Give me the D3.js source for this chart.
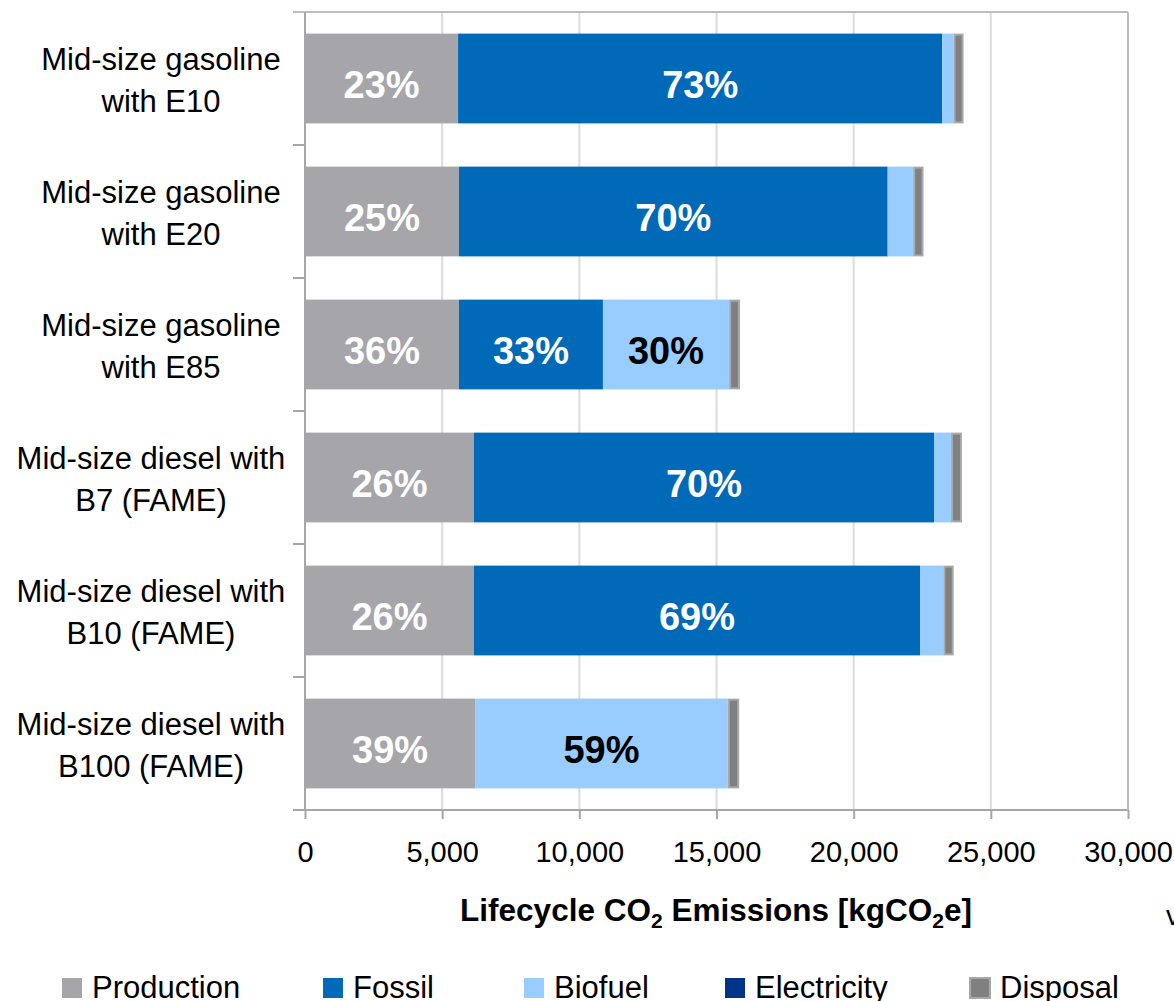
<!DOCTYPE html>
<html>
<head>
<meta charset="utf-8">
<script src="https://cdn.jsdelivr.net/npm/d3@7"></script>
<style>
  body { margin: 0; background: #fff; }
  svg { font-family: "Liberation Sans", Arial, sans-serif; }
</style>
</head>
<body>
<div id="chart"></div>
<script>
// categories (two label lines each)
const categories = [
  ['Mid-size gasoline', 'with E10'],
  ['Mid-size gasoline', 'with E20'],
  ['Mid-size gasoline', 'with E85'],
  ['Mid-size diesel with', 'B7 (FAME)'],
  ['Mid-size diesel with', 'B10 (FAME)'],
  ['Mid-size diesel with', 'B100 (FAME)']
];
const seriesNames = ['Production', 'Fossil', 'Biofuel', 'Electricity', 'Disposal'];
const production = [5580, 5610, 5610, 6160, 6160, 6200];
const fossil = [17650, 15630, 5250, 16770, 16260, 0];
const biofuel = [410, 930, 4600, 620, 850, 9210];
const electricity = [0, 0, 0, 0, 0, 0];
const disposal = [330, 340, 360, 360, 340, 380];
// percentage labels shown on segments
const prodPct = ['23%', '25%', '36%', '26%', '26%', '39%'];
const fossilPct = ['73%', '70%', '33%', '70%', '69%', ''];
const biofuelPct = ['', '', '30%', '', '', '59%'];
const xTicks = [0, 5000, 10000, 15000, 20000, 25000, 30000];

const colors = ['#a6a6aa', '#0069b8', '#99ccff', '#00338a', '#808080'];

const width = 1174, height = 1001;
const plotLeft = 305, plotRight = 1128, plotTop = 12, plotBottom = 810;

const svg = d3.select('#chart').append('svg')
  .attr('width', width).attr('height', height);

const x = d3.scaleLinear().domain([0, 30000]).range([plotLeft, plotRight]);
const y = d3.scaleBand().domain(d3.range(categories.length))
  .range([plotTop, plotBottom]).paddingInner(0.325).paddingOuter(0.1625);

// gridlines
svg.append('g').selectAll('line').data(xTicks.slice(1)).join('line')
  .attr('x1', d => x(d)).attr('x2', d => x(d))
  .attr('y1', plotTop).attr('y2', plotBottom)
  .attr('stroke', '#dcdcdc').attr('stroke-width', 2);

// top border
svg.append('line').attr('x1', plotLeft - 12).attr('x2', plotRight)
  .attr('y1', plotTop).attr('y2', plotTop)
  .attr('stroke', '#bdbdbd').attr('stroke-width', 2);

// stacked data
const table = categories.map((c, i) => ({
  Production: production[i], Fossil: fossil[i], Biofuel: biofuel[i],
  Electricity: electricity[i], Disposal: disposal[i]
}));
const stacked = d3.stack().keys(seriesNames)(table);

const groups = svg.append('g').selectAll('g').data(stacked).join('g')
  .attr('fill', (d, i) => colors[i]);

groups.selectAll('rect').data(d => d).join('rect')
  .attr('x', d => x(d[0]))
  .attr('y', (d, i) => y(i))
  .attr('width', d => x(d[1]) - x(d[0]))
  .attr('height', y.bandwidth());

// disposal border
groups.filter(d => d.key === 'Disposal').selectAll('rect')
  .attr('stroke', '#a8a8a8').attr('stroke-width', 2)
  .attr('x', d => x(d[0]) + 1)
  .attr('width', d => Math.max(0, x(d[1]) - x(d[0]) - 1))
  .attr('y', (d, i) => y(i) + 1)
  .attr('height', y.bandwidth() - 2);

// segment labels
function addLabels(series, labels, color) {
  svg.append('g').selectAll('text').data(series).join('text')
    .attr('x', d => (x(d[0]) + x(d[1])) / 2)
    .attr('y', (d, i) => y(i) + y.bandwidth() / 2 + 6)
    .attr('dy', '0.36em')
    .attr('text-anchor', 'middle')
    .attr('font-size', 38).attr('font-weight', 'bold')
    .attr('fill', color)
    .text((d, i) => labels[i]);
}
addLabels(stacked[0], prodPct, '#fff');
addLabels(stacked[1], fossilPct, '#fff');
addLabels(stacked[2], biofuelPct, '#000');

// y axis line + category ticks
svg.append('line').attr('x1', plotLeft).attr('x2', plotLeft)
  .attr('y1', plotTop).attr('y2', plotBottom)
  .attr('stroke', '#a6a6a6').attr('stroke-width', 2);
const step = y.step();
svg.append('g').selectAll('line').data(d3.range(1, categories.length)).join('line')
  .attr('x1', plotLeft - 12).attr('x2', plotLeft)
  .attr('y1', i => plotTop + i * step).attr('y2', i => plotTop + i * step)
  .attr('stroke', '#a6a6a6').attr('stroke-width', 2);

// category labels
const catLabels = svg.append('g').selectAll('text').data(categories).join('text')
  .attr('text-anchor', 'middle')
  .attr('font-size', 31).attr('fill', '#000');
catLabels.each(function (d, i) {
  const t = d3.select(this);
  const cy = y(i) + y.bandwidth() / 2;
  const cx = i < 3 ? 161 : 151;
  t.append('tspan').attr('x', cx).attr('y', cy - 20).attr('dy', '0.36em').text(d[0]);
  t.append('tspan').attr('x', cx).attr('y', cy + 22).attr('dy', '0.36em').text(d[1]);
});

// x axis
const xAxis = svg.append('g').attr('transform', `translate(0,${plotBottom})`)
  .call(d3.axisBottom(x).tickValues(xTicks).tickSize(9).tickPadding(22)
    .tickFormat(d3.format(',')));
xAxis.select('.domain').remove();
xAxis.selectAll('.tick line').attr('stroke', '#a6a6a6').attr('stroke-width', 2);
xAxis.selectAll('.tick text').attr('font-size', 29).attr('fill', '#000')
  .attr('font-family', '"Liberation Sans", Arial, sans-serif');
svg.append('line').attr('x1', plotLeft - 12).attr('x2', plotRight + 1)
  .attr('y1', plotBottom).attr('y2', plotBottom)
  .attr('stroke', '#a6a6a6').attr('stroke-width', 2);
svg.append('line').attr('x1', plotRight).attr('x2', plotRight)
  .attr('y1', plotTop).attr('y2', plotBottom)
  .attr('stroke', '#bdbdbd').attr('stroke-width', 2);

// axis title with subscripts
const title = svg.append('text').attr('x', 716).attr('y', 921)
  .attr('text-anchor', 'middle').attr('font-size', 31.5).attr('font-weight', 'bold');
title.append('tspan').text('Lifecycle CO');
title.append('tspan').attr('font-size', 21).attr('dy', 7).text('2');
title.append('tspan').attr('dy', -7).text(' Emissions [kgCO');
title.append('tspan').attr('font-size', 21).attr('dy', 7).text('2');
title.append('tspan').attr('dy', -7).text('e]');

// stray cut-off text at the right edge
svg.append('text').attr('x', 1166).attr('y', 925).attr('font-size', 28).text('v');

// legend
const legendX = [62, 323, 524, 725, 970];
const legend = svg.append('g').selectAll('g').data(seriesNames).join('g')
  .attr('transform', (d, i) => `translate(${legendX[i]},988)`);
legend.append('rect').attr('x', 0).attr('y', -10).attr('width', 20).attr('height', 20)
  .attr('fill', (d, i) => colors[i])
  .attr('stroke', (d, i) => d === 'Disposal' ? '#a8a8a8' : 'none')
  .attr('stroke-width', 2);
legend.append('text').attr('x', 30).attr('y', 10)
  .attr('font-size', 31).text(d => d);
</script>
</body>
</html>
